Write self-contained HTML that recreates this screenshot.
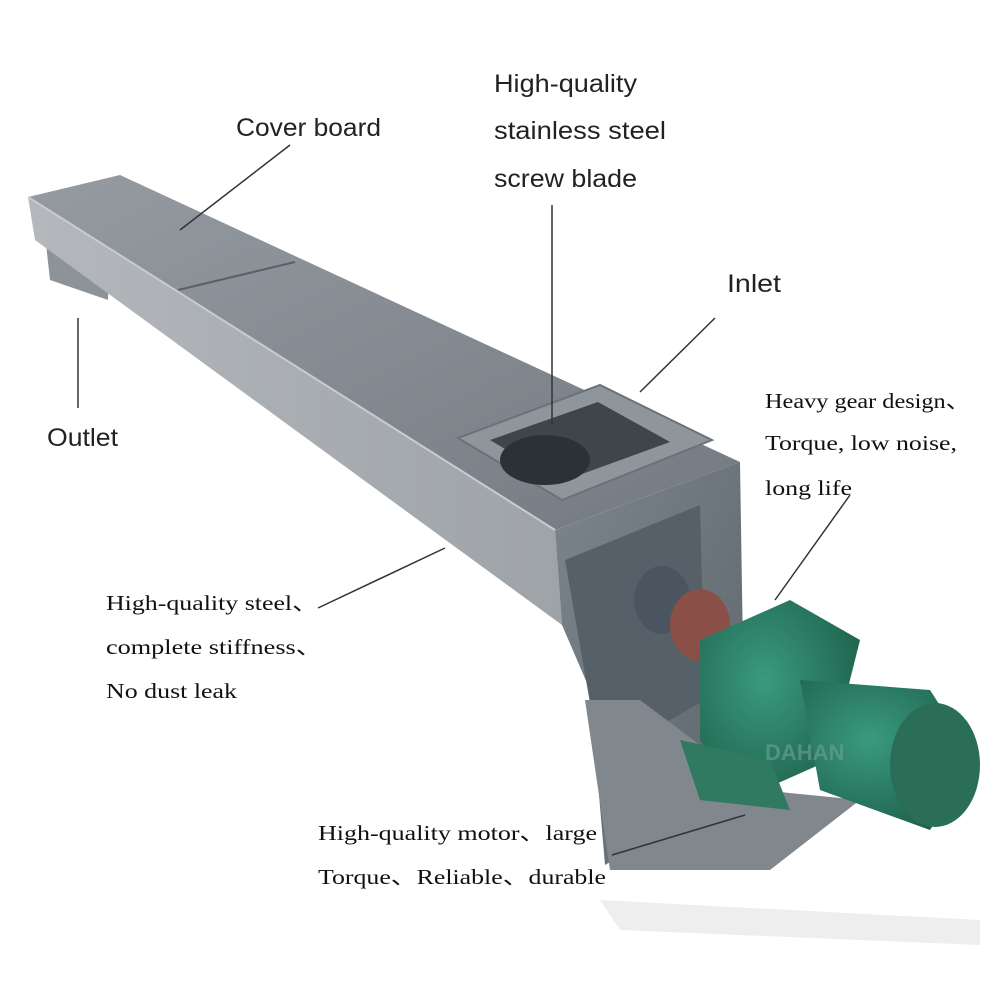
<!DOCTYPE html>
<html><head><meta charset="utf-8"><style>
html,body{margin:0;padding:0;background:#fff;}
svg{display:block}
.s{font-family:"Liberation Sans",sans-serif;font-size:25px;fill:#222}
.r{font-family:"Liberation Serif",serif;font-size:21px;fill:#111}
</style></head><body>
<svg width="1000" height="1000" viewBox="0 0 1000 1000" xmlns="http://www.w3.org/2000/svg">
<defs>
<linearGradient id="top" x1="0" y1="0" x2="1" y2="1"><stop offset="0" stop-color="#959ba1"/><stop offset="1" stop-color="#737a81"/></linearGradient>
<linearGradient id="front" x1="0" y1="0" x2="1" y2="0"><stop offset="0" stop-color="#b4b8bc"/><stop offset="1" stop-color="#9ea3a8"/></linearGradient>
<linearGradient id="end" x1="0" y1="0" x2="1" y2="1"><stop offset="0" stop-color="#7d858c"/><stop offset="1" stop-color="#5d656c"/></linearGradient>
<radialGradient id="mot" cx="0.4" cy="0.4" r="0.7"><stop offset="0" stop-color="#3a9a7e"/><stop offset="1" stop-color="#1d5e4a"/></radialGradient>
</defs>
<polygon points="600,900 980,920 980,945 620,930" fill="#eeeeee"/>
<polygon points="45,235 110,262 108,300 50,280" fill="#8d9399"/>
<polygon points="28,197 555,530 562,625 35,240" fill="url(#front)"/>
<polygon points="28,197 120,175 740,462 555,530" fill="url(#top)"/>
<line x1="178" y1="290" x2="295" y2="262" stroke="#5a6066" stroke-width="2"/>
<line x1="28" y1="197" x2="555" y2="530" stroke="#c8ccd0" stroke-width="2"/>
<polygon points="555,530 740,462 745,780 605,865 590,690 562,625" fill="url(#end)"/>
<polygon points="565,560 700,505 705,700 600,760" fill="#566068"/>
<polygon points="585,700 610,870 770,870 860,800 760,790 640,700" fill="#80878d"/>
<polygon points="458,438 600,385 712,440 562,500" fill="#8e959b" stroke="#6a7177" stroke-width="2"/>
<polygon points="490,440 598,402 670,442 560,482" fill="#3e454b"/>
<ellipse cx="545" cy="460" rx="45" ry="25" fill="#2c3136"/>
<ellipse cx="662" cy="600" rx="28" ry="34" fill="#4a5560"/>
<ellipse cx="700" cy="625" rx="30" ry="36" fill="#8a5048"/>
<polygon points="700,640 790,600 860,640 830,760 740,800 700,740" fill="url(#mot)"/>
<polygon points="800,680 930,690 975,760 930,830 820,790" fill="url(#mot)"/>
<ellipse cx="935" cy="765" rx="45" ry="62" fill="#2a6e58"/>
<polygon points="680,740 770,760 790,810 700,800" fill="#2f7a60"/>
<text x="765" y="760" font-family="Liberation Sans,sans-serif" font-size="22" fill="#6fa393" font-weight="bold" opacity="0.6">DAHAN</text>
<g stroke="#333" stroke-width="1.5" fill="none">
<line x1="290" y1="145" x2="180" y2="230"/>
<line x1="552" y1="205" x2="552" y2="425"/>
<line x1="715" y1="318" x2="640" y2="392"/>
<line x1="78" y1="318" x2="78" y2="408"/>
<line x1="850" y1="495" x2="775" y2="600"/>
<line x1="318" y1="608" x2="445" y2="548"/>
<line x1="612" y1="855" x2="745" y2="815"/>
</g>
<text class="s" x="236" y="136" textLength="145" lengthAdjust="spacingAndGlyphs">Cover board</text>
<text class="s" x="494" y="92" textLength="143" lengthAdjust="spacingAndGlyphs">High-quality</text>
<text class="s" x="494" y="139" textLength="172" lengthAdjust="spacingAndGlyphs">stainless steel</text>
<text class="s" x="494" y="187" textLength="143" lengthAdjust="spacingAndGlyphs">screw blade</text>
<text class="s" x="727" y="292" textLength="54" lengthAdjust="spacingAndGlyphs">Inlet</text>
<text class="s" x="47" y="446" textLength="71" lengthAdjust="spacingAndGlyphs">Outlet</text>
<text class="r" x="765" y="408" textLength="205" lengthAdjust="spacingAndGlyphs">Heavy gear design、</text>
<text class="r" x="765" y="450" textLength="192" lengthAdjust="spacingAndGlyphs">Torque, low noise,</text>
<text class="r" x="765" y="495" textLength="87" lengthAdjust="spacingAndGlyphs">long life</text>
<text class="r" x="106" y="610" textLength="212" lengthAdjust="spacingAndGlyphs">High-quality steel、</text>
<text class="r" x="106" y="654" textLength="216" lengthAdjust="spacingAndGlyphs">complete stiffness、</text>
<text class="r" x="106" y="698" textLength="131" lengthAdjust="spacingAndGlyphs">No dust leak</text>
<text class="r" x="318" y="840" textLength="279" lengthAdjust="spacingAndGlyphs">High-quality motor、large</text>
<text class="r" x="318" y="884" textLength="288" lengthAdjust="spacingAndGlyphs">Torque、Reliable、durable</text>
</svg>
</body></html>
